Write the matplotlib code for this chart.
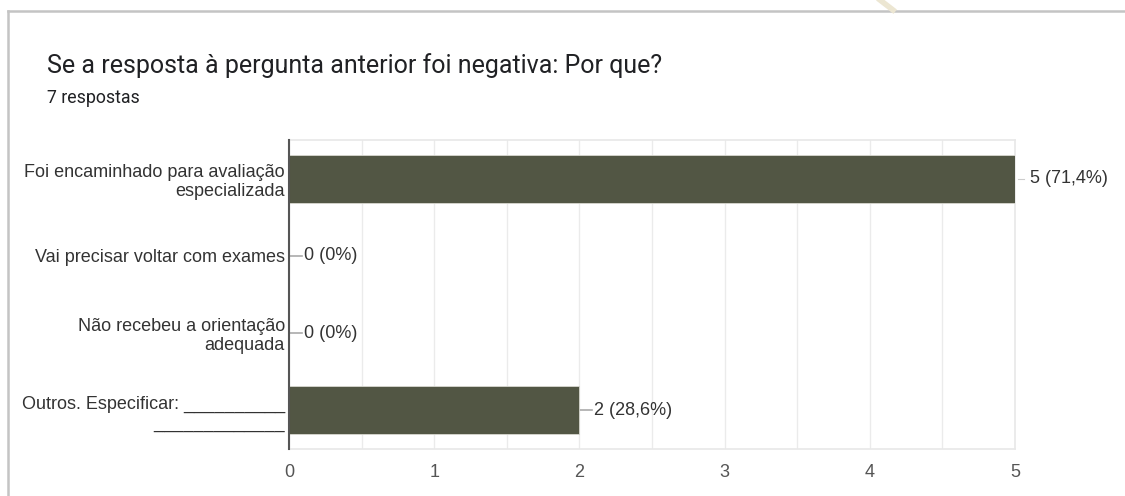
import matplotlib.pyplot as plt
import matplotlib.lines as mlines
import numpy as np

# survey answers
categorias = [
    "Foi encaminhado para avaliação\nespecializada",
    "Vai precisar voltar com exames",
    "Não recebeu a orientação\nadequada",
    "Outros. Especificar: __________\n_____________",
]
respostas = [5, 0, 0, 2]
rotulos = ["5 (71,4%)", "0 (0%)", "0 (0%)", "2 (28,6%)"]
total = 7

titulo = "Se a resposta à pergunta anterior foi negativa: Por que?"
subtitulo = f"{total} respostas"

cor_barra = "#525644"
fonte = ["Liberation Sans", "DejaVu Sans"]
tam = 13

fig = plt.figure(figsize=(11.25, 4.96), dpi=100)
ax = fig.add_axes([289 / 1125, 1 - 449 / 496, 726 / 1125, 309 / 496])

y = np.arange(len(categorias))
ax.barh(y, respostas, height=0.62, color=cor_barra, edgecolor="#d8d8d0", linewidth=0.6, zorder=3)

# value labels with a short connector
for yi, v, txt in zip(y, respostas, rotulos):
    if v == max(respostas):
        ax.plot([v + 0.02, v + 0.06], [yi, yi], color="#cccccc", lw=0.8, zorder=2, clip_on=False)
    else:
        ax.plot([v, v + 0.09], [yi, yi], color="#aaaaaa", lw=1.2, zorder=2, clip_on=False)
    ax.text(v + 0.1, yi, txt, va="center", ha="left", fontsize=tam, color="#333333",
            family=fonte)

ax.set_xlim(0, 5)
ax.set_ylim(3.5, -0.5)
ax.set_yticks(y)
ax.set_yticklabels(categorias, fontsize=tam, color="#333333", family=fonte, linespacing=1.15)
ax.set_xticks(range(6))
ax.set_xticklabels([str(i) for i in range(6)], fontsize=tam, color="#555555", family=fonte)
ax.set_xticks(np.arange(0.5, 5, 1), minor=True)
ax.tick_params(axis="y", length=0, pad=3)
ax.tick_params(axis="x", length=0, pad=11, which="both")
ax.grid(axis="x", which="both", color="#ebebeb", lw=1, zorder=0)

for s in ["top", "right", "bottom"]:
    ax.spines[s].set_color("#e8e8e8")
    ax.spines[s].set_linewidth(1.2)
ax.spines["left"].set_color("#555555")
ax.spines["left"].set_linewidth(1.5)
ax.spines["left"].set_zorder(4)

fig.text(47 / 1125, 1 - 66 / 496, titulo, fontsize=18, color="#202124", va="center",
         family=["Roboto", "DejaVu Sans"])
fig.text(47 / 1125, 1 - 98 / 496, subtitulo, fontsize=12.8, color="#202124", va="center",
         family=["Roboto", "DejaVu Sans"])

# card outline
fig.add_artist(mlines.Line2D([8 / 1125, 8 / 1125], [0, 1 - 11 / 496], color="#c4c4c4", lw=1.8))
fig.add_artist(mlines.Line2D([8 / 1125, 1], [1 - 11 / 496, 1 - 11 / 496], color="#c4c4c4", lw=1.8))
# faint stroke from the page behind the card
fig.add_artist(mlines.Line2D([880 / 1125, 893 / 1125], [1, 1 - 10 / 496], color="#ece6d2", lw=4))

fig.savefig("out.png", dpi=100)
